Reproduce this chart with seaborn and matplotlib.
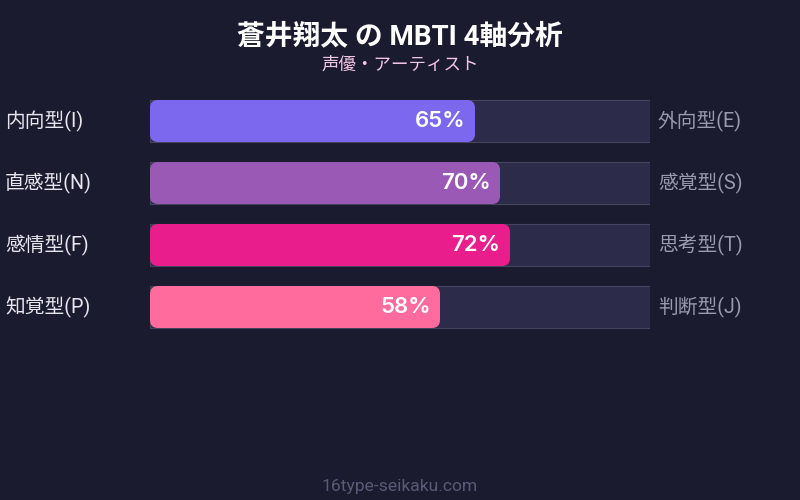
import matplotlib
matplotlib.use("Agg")
import matplotlib.pyplot as plt
import seaborn as sns
import pandas as pd
from matplotlib.patches import FancyBboxPatch

left_labels = ["内向型(I)", "直感型(N)", "感情型(F)", "知覚型(P)"]
right_labels = ["外向型(E)", "感覚型(S)", "思考型(T)", "判断型(J)"]
values = [65, 70, 72, 58]
colors = ["#7b68ee", "#9b59b6", "#e91e8c", "#ff6b9d"]
title = "蒼井翔太 の MBTI 4軸分析"
subtitle = "声優・アーティスト"
footer = "16type-seikaku.com"

BG = "#1a1b2e"
TRACK = "#2d2b4a"
TRACK_EDGE = "#46445f"

sns.set_theme(style="white")
plt.rcParams['font.family'] = ['Roboto', 'Noto Sans CJK JP', 'DejaVu Sans']

df = pd.DataFrame({"axis": left_labels, "value": values, "full": [100] * len(values)})

fig = plt.figure(figsize=(8, 5), dpi=100, facecolor=BG)
ax = fig.add_axes([0.1875, 0.324, 0.625, 0.496])
ax.set_facecolor(BG)

bw = 42 / 62
sns.barplot(data=df, x="full", y="axis", orient="h", color=TRACK, width=bw,
            edgecolor=TRACK_EDGE, linewidth=0.8, saturation=1, ax=ax)
n_track = len(ax.patches)
sns.barplot(data=df, x="value", y="axis", hue="axis", palette=colors, orient="h",
            width=bw, saturation=1, legend=False, ax=ax, linewidth=0)

ax.set_xlim(0, 100)
ax.set_ylim(len(values) - 0.5, -0.5)

px_x = 500 / 100
px_y = 62.0
r_px = 8
r = r_px / px_x
aspect = (r_px / px_y) / r

val_patches = ax.patches[n_track:]
for p in list(val_patches):
    x0, y0 = p.get_x(), p.get_y()
    w, h = p.get_width(), p.get_height()
    fc = p.get_facecolor()
    p.remove()
    fp = FancyBboxPatch((x0, y0), w, h,
                        boxstyle=f"round,pad=0,rounding_size={r}",
                        mutation_aspect=aspect, facecolor=fc, edgecolor="none",
                        zorder=3)
    ax.add_patch(fp)
    yc = y0 + h / 2
    ax.text(x0 + w - 1.9, yc, f"{int(round(w))}%", ha="right", va="center",
            color="white", fontsize=16, fontweight="semibold", zorder=4,
            family=["Inter", "Roboto", "DejaVu Sans"])

for i, (ll, rl) in enumerate(zip(left_labels, right_labels)):
    ax.text(-29, i, ll, ha="left", va="center", color="#e6e6ee", fontsize=14.2,
            clip_on=False)
    ax.text(101.6, i, rl, ha="left", va="center", color="#9a9aae", fontsize=14.2,
            clip_on=False)

ax.set_xlabel("")
ax.set_ylabel("")
ax.set_xticks([])
ax.set_yticks([])
for s in ax.spines.values():
    s.set_visible(False)

fig.text(0.5, 1 - 36.5 / 500, title, ha="center", va="center", color="white",
         fontsize=20, fontweight="bold")
fig.text(0.5, 1 - 65 / 500, subtitle, ha="center", va="center", color="#f2c6e6",
         fontsize=12.6)
fig.text(0.5, 1 - 486 / 500, footer, ha="center", va="center", color="#5a5a78",
         fontsize=12.6)

fig.savefig("out.png", dpi=100, facecolor=BG)
